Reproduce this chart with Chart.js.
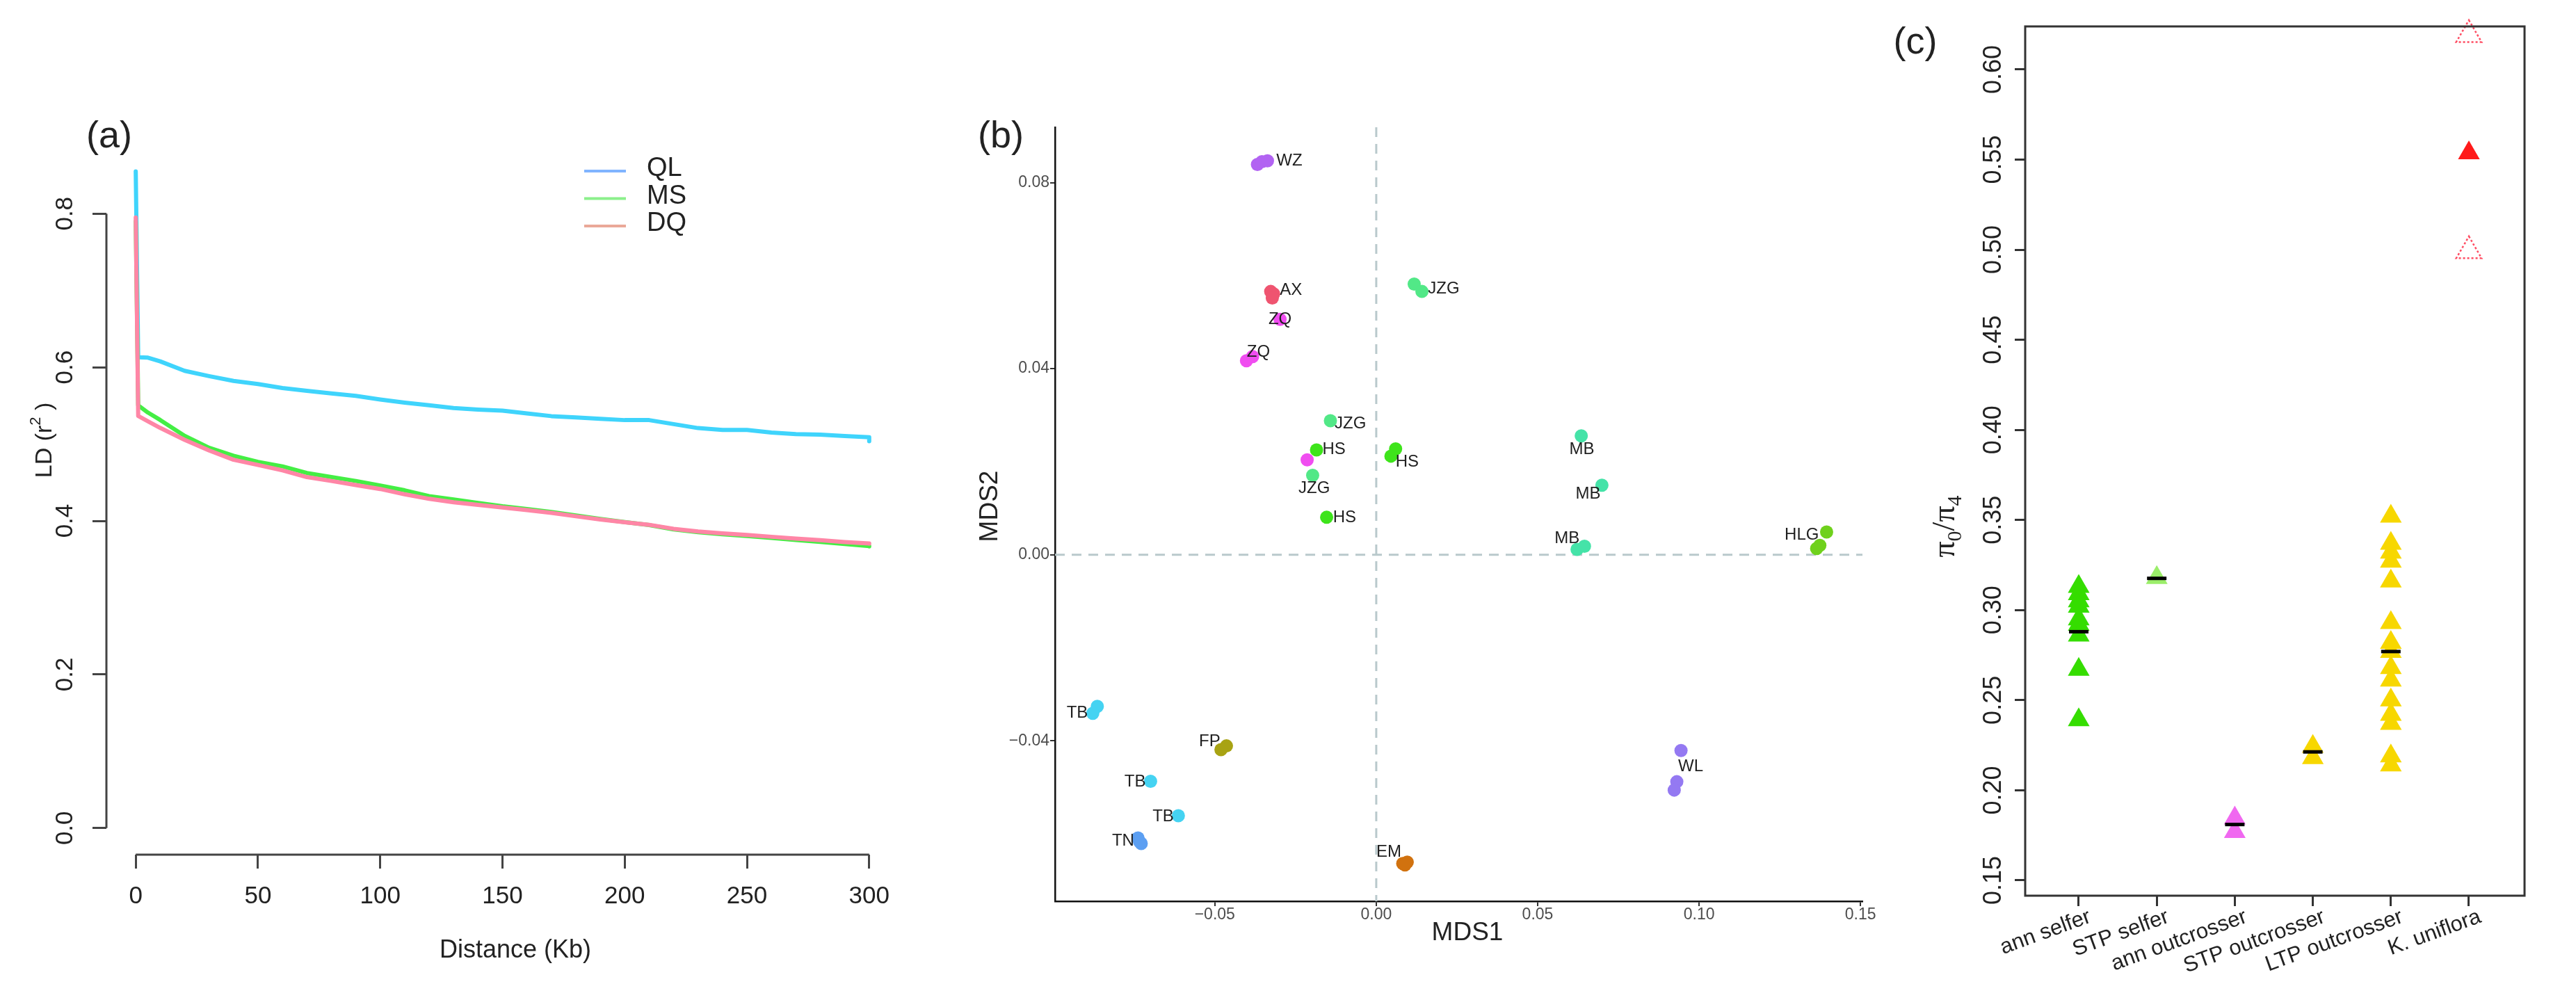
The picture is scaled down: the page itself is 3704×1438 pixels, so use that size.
<!DOCTYPE html>
<html>
<head>
<meta charset="utf-8">
<script src="https://cdn.jsdelivr.net/npm/chart.js@4.4.0/dist/chart.umd.min.js"></script>
<style>
  body { margin: 0; background: #fff; }
  #wrap { position: relative; width: 3704px; height: 1438px; }
  #wrap canvas { position: absolute; left: 0; top: 0; }
</style>
</head>
<body>
<div id="wrap">
  <canvas id="ld" width="3704" height="1438"></canvas>
  <canvas id="mds" width="3704" height="1438"></canvas>
  <canvas id="pi" width="3704" height="1438"></canvas>
</div>
<script>
// (a) LD decay
const distKb = [0, 1, 5, 10, 20, 30, 40, 50, 60, 70, 80, 90, 100, 110, 120, 130, 140, 150,
  160, 170, 180, 190, 200, 210, 220, 230, 240, 250, 260, 270, 280, 290, 300, 300];
const ldQL = [0.855, 0.613, 0.6125, 0.6077, 0.5954, 0.5885, 0.5823, 0.5781, 0.5729, 0.5694, 0.566, 0.5627,
  0.558, 0.5539, 0.5505, 0.547, 0.5449, 0.5435, 0.5399, 0.5364, 0.5347, 0.5329, 0.5312, 0.5312, 0.526,
  0.5208, 0.5184, 0.5184, 0.515, 0.5129, 0.5122, 0.5105, 0.5088, 0.5036];
const ldMS = [0.79, 0.5505, 0.541, 0.5314, 0.5107, 0.4952, 0.4848, 0.4768, 0.471, 0.4623, 0.457, 0.452,
  0.446, 0.4398, 0.4323, 0.4278, 0.4233, 0.419, 0.4155, 0.4115, 0.407, 0.4025, 0.3985, 0.3945, 0.389,
  0.3852, 0.3825, 0.3803, 0.3778, 0.3752, 0.3727, 0.37, 0.3672, 0.3668];
const ldDQ = [0.795, 0.5366, 0.5297, 0.5211, 0.5055, 0.4917, 0.4796, 0.4728, 0.4658, 0.457, 0.452, 0.4467,
  0.4415, 0.4346, 0.4287, 0.4242, 0.4208, 0.4174, 0.414, 0.4105, 0.406, 0.4018, 0.3983, 0.3949, 0.3897,
  0.3862, 0.3838, 0.3817, 0.3793, 0.3769, 0.3748, 0.3724, 0.3706, 0.3704];
const ldTicksX = [0, 50, 100, 150, 200, 250, 300];
const ldTicksY = [0, 0.2, 0.4, 0.6, 0.8];

// (b) MDS, one x and y list per population group
const mdsGroups = ['WZ', 'AX', 'ZQ', 'JZG', 'HS', 'MB', 'HLG', 'TB', 'FP', 'TN', 'EM', 'WL'];
const mdsX = [
  [-0.0368, -0.0354, -0.0337],
  [-0.0327, -0.0318, -0.0322],
  [-0.0298, -0.0402, -0.0383, -0.0214],
  [0.01175, 0.01415, -0.0142, -0.0197],
  [-0.0185, -0.01537, 0.006, 0.00455],
  [0.0635, 0.0699, 0.0622, 0.0645],
  [0.1395, 0.1374, 0.1364],
  [-0.0864, -0.0878, -0.0699, -0.0613],
  [-0.0464, -0.0481],
  [-0.0738, -0.0728, -0.0733],
  [0.0082, 0.0096, 0.0089],
  [0.0944, 0.0931, 0.0923]
];
const mdsY = [
  [0.0839, 0.0845, 0.0847],
  [0.0566, 0.0561, 0.0552],
  [0.0506, 0.0417, 0.0426, 0.0204],
  [0.0582, 0.0566, 0.0288, 0.01706],
  [0.02254, 0.00805, 0.02275, 0.0212],
  [0.02555, 0.01493, 0.00116, 0.00183],
  [0.00489, 0.00201, 0.00133],
  [-0.0326, -0.0341, -0.0487, -0.0561],
  [-0.0411, -0.0419],
  [-0.0609, -0.0621, -0.0617],
  [-0.0664, -0.0661, -0.0667],
  [-0.0421, -0.0488, -0.0506]
];
const mdsLabelText = ['WZ', 'AX', 'ZQ', 'ZQ', 'JZG', 'JZG', 'HS', 'JZG', 'HS', 'HS', 'MB', 'MB', 'MB',
  'HLG', 'TB', 'FP', 'TB', 'TB', 'TN', 'EM', 'WL'];
const mdsLabelX = [-0.0269, -0.0264, -0.0298, -0.0365, 0.0209, -0.008, -0.0131, -0.0192, -0.0098, 0.0096,
  0.0637, 0.0656, 0.0591, 0.1318, -0.0926, -0.0516, -0.0747, -0.066, -0.0784, 0.0039, 0.0974];
const mdsLabelY = [0.0847, 0.0568, 0.0506, 0.0436, 0.0572, 0.0281, 0.0226, 0.0143, 0.008, 0.0199,
  0.0226, 0.0131, 0.0035, 0.0043, -0.034, -0.0402, -0.0489, -0.0563, -0.0616, -0.064, -0.0456];
const mdsTicksX = [-0.05, 0, 0.05, 0.1, 0.15];
const mdsTicksY = [-0.04, 0, 0.04, 0.08];

// (c) pi0/pi4 by mating system / life history
const piCategories = ['ann selfer', 'STP selfer', 'ann outcrosser', 'STP outcrosser', 'LTP outcrosser', 'K. uniflora'];
const piAnnSelfer = [0.313, 0.309, 0.305, 0.302, 0.295, 0.292, 0.286, 0.267, 0.239];
const piStpSelfer = [0.318];
const piAnnOutcrosser = [0.1845, 0.177];
const piStpOutcrosser = [0.2243, 0.218];
const piLtpOutcrosser = [0.352, 0.337, 0.332, 0.327, 0.316, 0.293, 0.282, 0.277, 0.268, 0.261, 0.25,
  0.242, 0.237, 0.219, 0.214];
const piKUniflora = [0.5537];
const piKUnifloraCI = [0.6193, 0.4993];
const piMedians = [0.288, 0.3176, 0.181, 0.2213, 0.277];
const piTicksY = [0.15, 0.2, 0.25, 0.3, 0.35, 0.4, 0.45, 0.5, 0.55, 0.6];

const W = 3704, H = 1438;
const SANS = '"Liberation Sans", Arial, sans-serif';

function pad(l, t, r, b) {
  return { left: l, top: t, right: W - r, bottom: H - b };
}
function fixTicks(values) {
  return function (scale) { scale.ticks = values.map(v => ({ value: v })); };
}
function noSize(scale) {
  if (scale.isHorizontal()) scale.height = 0; else scale.width = 0;
}
function drawText(ctx, str, x, y, o) {
  ctx.save();
  ctx.translate(x, y);
  if (o.rot) ctx.rotate(o.rot);
  ctx.font = o.font;
  ctx.fillStyle = o.color || '#222';
  ctx.textAlign = o.align || 'center';
  ctx.textBaseline = o.base || 'middle';
  ctx.fillText(str, 0, 0);
  ctx.restore();
}
// text made of pieces (sub / superscripts), centred on x,y
function drawRich(ctx, parts, x, y, rot) {
  ctx.save();
  ctx.translate(x, y);
  if (rot) ctx.rotate(rot);
  ctx.fillStyle = '#222';
  ctx.textBaseline = 'alphabetic';
  ctx.textAlign = 'left';
  let total = 0;
  parts.forEach(p => { ctx.font = p.font; p.w = ctx.measureText(p.t).width; total += p.w; });
  let cx = -total / 2;
  parts.forEach(p => { ctx.font = p.font; ctx.fillText(p.t, cx, p.dy); cx += p.w; });
  ctx.restore();
}
function tickGrid(len, width, color) {
  return { drawOnChartArea: false, drawTicks: true, tickLength: len, lineWidth: width, color: color };
}

// ---------- (a) ----------
const ldPlugin = {
  id: 'ldAxes',
  afterDraw(chart) {
    const ctx = chart.ctx, x = chart.scales.x, y = chart.scales.y, a = chart.chartArea;
    ctx.save();
    ctx.strokeStyle = '#444';
    ctx.lineWidth = 3;
    ctx.beginPath();
    ctx.moveTo(a.left, y.getPixelForValue(0));
    ctx.lineTo(a.left, y.getPixelForValue(0.8));
    ctx.moveTo(x.getPixelForValue(0), a.bottom);
    ctx.lineTo(x.getPixelForValue(300), a.bottom);
    ctx.stroke();
    ctx.restore();
    const f = '35px ' + SANS;
    ldTicksY.forEach(v => drawText(ctx, v.toFixed(1), 94, y.getPixelForValue(v), { font: f, rot: -Math.PI / 2 }));
    ldTicksX.forEach(v => drawText(ctx, String(v), x.getPixelForValue(v), 1289, { font: f }));
    drawText(ctx, 'Distance (Kb)', 741, 1367, { font: '36px ' + SANS });
    drawRich(ctx, [
      { t: 'LD (r', font: '34px ' + SANS, dy: 12 },
      { t: '2', font: '22px ' + SANS, dy: -4 },
      { t: ' )', font: '34px ' + SANS, dy: 12 }
    ], 62, 633, -Math.PI / 2);
    drawText(ctx, '(a)', 157, 197, { font: '54px ' + SANS });
    // legend
    const legCols = ['#80b4ff', '#8cf08c', '#eaa898'];
    ['QL', 'MS', 'DQ'].forEach((s, i) => {
      const ly = 246 + i * 39.5;
      ctx.save();
      ctx.strokeStyle = legCols[i];
      ctx.lineWidth = 4;
      ctx.beginPath();
      ctx.moveTo(840, ly);
      ctx.lineTo(900, ly);
      ctx.stroke();
      ctx.restore();
      drawText(ctx, s, 930, ly - 3, { font: '38px ' + SANS, align: 'left' });
    });
  }
};

function ldSeries(vals) {
  return distKb.map((d, i) => ({ x: d, y: vals[i] }));
}
const ldLine = { pointRadius: 0, borderWidth: 6, tension: 0, borderJoinStyle: 'round', borderCapStyle: 'round' };

new Chart(document.getElementById('ld'), {
  type: 'line',
  data: {
    datasets: [
      Object.assign({ label: 'QL', data: ldSeries(ldQL), borderColor: '#3fd4fc', order: 3 }, ldLine),
      Object.assign({ label: 'MS', data: ldSeries(ldMS), borderColor: '#44ee44', order: 2 }, ldLine),
      Object.assign({ label: 'DQ', data: ldSeries(ldDQ), borderColor: '#ff86a6', order: 1 }, ldLine)
    ]
  },
  options: {
    responsive: false,
    animation: false,
    layout: { padding: pad(153, 203, 1292, 1229) },
    plugins: { legend: { display: false }, tooltip: { enabled: false } },
    scales: {
      x: {
        type: 'linear', min: -12, max: 312,
        afterBuildTicks: fixTicks(ldTicksX), afterFit: noSize,
        ticks: { display: false },
        grid: tickGrid(20, 3, '#444'),
        border: { display: false }
      },
      y: {
        type: 'linear', min: -0.0346, max: 0.8944,
        afterBuildTicks: fixTicks(ldTicksY), afterFit: noSize,
        ticks: { display: false },
        grid: tickGrid(20, 3, '#444'),
        border: { display: false }
      }
    }
  },
  plugins: [ldPlugin]
});

// ---------- (b) ----------
const mdsColors = ['#b263f2', '#ef5470', '#f04df0', '#52e887', '#3ee41b', '#45e3a8', '#6fd11c',
  '#45d3f2', '#a8a313', '#5c9ff2', '#d1720f', '#9479f2'];
function mdsFmt(v) {
  return (v < 0 ? '\u2212' : '') + Math.abs(v).toFixed(2);
}
const mdsPlugin = {
  id: 'mdsExtras',
  beforeDatasetsDraw(chart) {
    const ctx = chart.ctx, a = chart.chartArea;
    const x0 = chart.scales.x.getPixelForValue(0), y0 = chart.scales.y.getPixelForValue(0);
    ctx.save();
    ctx.strokeStyle = '#b9c9cc';
    ctx.lineWidth = 3;
    ctx.setLineDash([14, 10]);
    ctx.beginPath();
    ctx.moveTo(x0, a.top);
    ctx.lineTo(x0, a.bottom);
    ctx.moveTo(a.left, y0);
    ctx.lineTo(a.right, y0);
    ctx.stroke();
    ctx.restore();
  },
  afterDatasetsDraw(chart) {
    const ctx = chart.ctx, x = chart.scales.x, y = chart.scales.y;
    mdsLabelText.forEach((s, i) => drawText(ctx, s, x.getPixelForValue(mdsLabelX[i]),
      y.getPixelForValue(mdsLabelY[i]), { font: '24px ' + SANS, color: '#1f1f1f' }));
  },
  afterDraw(chart) {
    const ctx = chart.ctx, x = chart.scales.x, y = chart.scales.y;
    const f = '23px ' + SANS;
    mdsTicksX.forEach(v => drawText(ctx, mdsFmt(v), x.getPixelForValue(v), 1316, { font: f, color: '#4d4d4d' }));
    mdsTicksY.forEach(v => drawText(ctx, mdsFmt(v), 1509, y.getPixelForValue(v), { font: f, color: '#4d4d4d', align: 'right' }));
    drawText(ctx, 'MDS1', 2110, 1342, { font: '37px ' + SANS });
    drawText(ctx, 'MDS2', 1424, 728, { font: '37px ' + SANS, rot: -Math.PI / 2 });
    drawText(ctx, '(b)', 1439, 197, { font: '54px ' + SANS });
  }
};

new Chart(document.getElementById('mds'), {
  type: 'scatter',
  data: {
    datasets: mdsGroups.map((g, k) => ({
      label: g,
      data: mdsX[k].map((v, i) => ({ x: v, y: mdsY[k][i] })),
      pointRadius: 9.5,
      pointBorderWidth: 0,
      pointBackgroundColor: mdsColors[k],
      pointBorderColor: mdsColors[k]
    }))
  },
  options: {
    responsive: false,
    animation: false,
    layout: { padding: pad(1517, 183, 2678, 1296) },
    plugins: { legend: { display: false }, tooltip: { enabled: false } },
    scales: {
      x: {
        type: 'linear', min: -0.0995, max: 0.1506,
        afterBuildTicks: fixTicks(mdsTicksX), afterFit: noSize,
        ticks: { display: false },
        grid: tickGrid(7, 2, '#333'),
        border: { display: true, color: '#111', width: 2.5 }
      },
      y: {
        type: 'linear', min: -0.0745, max: 0.0919,
        afterBuildTicks: fixTicks(mdsTicksY), afterFit: noSize,
        ticks: { display: false },
        grid: tickGrid(7, 2, '#333'),
        border: { display: true, color: '#111', width: 2.5 }
      }
    }
  },
  plugins: [mdsPlugin]
});

// ---------- (c) ----------
const piPlugin = {
  id: 'piExtras',
  beforeDatasetDraw(chart, args) {
    if (chart.data.datasets[args.index].dotted) {
      chart.ctx.save();
      chart.ctx.setLineDash([3, 3]);
    }
  },
  afterDatasetDraw(chart, args) {
    if (chart.data.datasets[args.index].dotted) chart.ctx.restore();
  },
  afterDraw(chart) {
    const ctx = chart.ctx, x = chart.scales.x, y = chart.scales.y, a = chart.chartArea;
    ctx.save();
    ctx.strokeStyle = '#333';
    ctx.lineWidth = 3;
    ctx.strokeRect(a.left, a.top, a.right - a.left, a.bottom - a.top);
    ctx.restore();
    const f = '36px ' + SANS;
    piTicksY.forEach(v => drawText(ctx, v.toFixed(2), 2867, y.getPixelForValue(v), { font: f, rot: -Math.PI / 2 }));
    piCategories.forEach((s, i) => drawText(ctx, s, x.getPixelForValue(i) + 11, 1303,
      { font: '31px ' + SANS, rot: -20 * Math.PI / 180, align: 'right', base: 'top' }));
    const big = '46px "Liberation Serif", serif', small = '30px "Liberation Serif", serif';
    drawRich(ctx, [
      { t: '\u03c0', font: big, dy: 12 },
      { t: '0', font: small, dy: 22 },
      { t: '/', font: big, dy: 12 },
      { t: '\u03c0', font: big, dy: 12 },
      { t: '4', font: small, dy: 22 }
    ], 2798, 757, -Math.PI / 2);
    drawText(ctx, '(c)', 2754, 62, { font: '54px ' + SANS });
  }
};

function piPoints(vals, i) {
  return vals.map(v => ({ x: i, y: v }));
}
function triSet(vals, i, color) {
  return {
    data: piPoints(vals, i), pointStyle: 'triangle', pointRadius: 18, pointBorderWidth: 0,
    pointBackgroundColor: color, pointBorderColor: color, order: 2, clip: false
  };
}

new Chart(document.getElementById('pi'), {
  type: 'scatter',
  data: {
    datasets: [
      triSet(piAnnSelfer, 0, '#35dd00'),
      triSet(piStpSelfer, 1, '#9bee6a'),
      triSet(piAnnOutcrosser, 2, '#f068f0'),
      triSet(piStpOutcrosser, 3, '#f7d700'),
      triSet(piLtpOutcrosser, 4, '#f7d700'),
      triSet(piKUniflora, 5, '#ff1a1a'),
      {
        data: piPoints(piKUnifloraCI, 5), pointStyle: 'triangle', pointRadius: 21, pointBorderWidth: 2.5,
        pointBackgroundColor: 'rgba(0,0,0,0)', pointBorderColor: '#ff4d63', order: 2, clip: false, dotted: true
      },
      {
        data: piMedians.map((v, i) => ({ x: i, y: v })), pointStyle: 'line', pointRadius: 14,
        pointBorderWidth: 5, pointBorderColor: '#000', pointBackgroundColor: '#000', order: 0, clip: false
      }
    ]
  },
  options: {
    responsive: false,
    animation: false,
    layout: { padding: pad(2912, 38, 3630, 1288) },
    plugins: { legend: { display: false }, tooltip: { enabled: false } },
    scales: {
      x: {
        type: 'linear', min: -0.686, max: 5.713,
        afterBuildTicks: fixTicks([0, 1, 2, 3, 4, 5]), afterFit: noSize,
        ticks: { display: false },
        grid: tickGrid(15, 3, '#333'),
        border: { display: false }
      },
      y: {
        type: 'linear', min: 0.1415, max: 0.6239,
        afterBuildTicks: fixTicks(piTicksY), afterFit: noSize,
        ticks: { display: false },
        grid: tickGrid(15, 3, '#333'),
        border: { display: false }
      }
    }
  },
  plugins: [piPlugin]
});
</script>
</body>
</html>
